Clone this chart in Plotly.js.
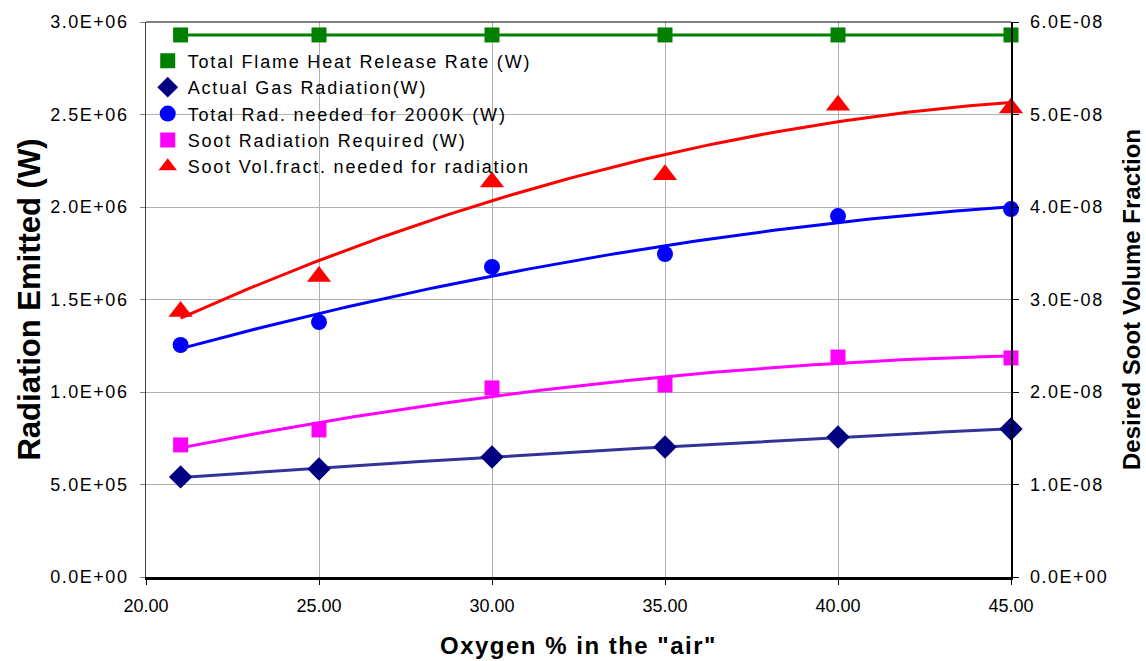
<!DOCTYPE html>
<html>
<head>
<meta charset="utf-8">
<script src="https://cdn.plot.ly/plotly-3.0.1.min.js"></script>
<style>
  html, body { margin: 0; padding: 0; background: #ffffff; }
  #chart { width: 1146px; height: 661px; }
  .legendtext { letter-spacing: 1.8px; }
  .ytick text, .y2tick text, text.ytick, text.y2tick { letter-spacing: 1.5px; }
  .g-xtitle text, text.xtitle { letter-spacing: 1.5px; }
</style>
</head>
<body>
<div id="chart"></div>
<script>
// ---- data ----
const oxygen = [21, 25, 30, 35, 40, 45];
const heatRelease = [2.93e6, 2.93e6, 2.93e6, 2.93e6, 2.93e6, 2.93e6];
const gasRadiation = [5.41e5, 5.84e5, 6.49e5, 7.03e5, 7.57e5, 8.00e5];
const totalRad = [1.254e6, 1.378e6, 1.676e6, 1.746e6, 1.951e6, 1.989e6];
const sootRad = [7.14e5, 7.95e5, 1.022e6, 1.038e6, 1.189e6, 1.184e6];
const sootVol = [2.87e-8, 3.25e-8, 4.27e-8, 4.35e-8, 5.10e-8, 5.07e-8];

const seriesNames = [
  'Total Flame Heat Release Rate (W)',
  'Actual Gas Radiation(W)',
  'Total Rad. needed for 2000K (W)',
  'Soot Radiation Required (W)',
  'Soot Vol.fract. needed for radiation'
];

const xTickVals = [20, 25, 30, 35, 40, 45];
const yTickVals = [0, 5e5, 1e6, 1.5e6, 2e6, 2.5e6, 3e6];
const yTickText = ['0.0E+00', '5.0E+05', '1.0E+06', '1.5E+06', '2.0E+06', '2.5E+06', '3.0E+06'];
const y2TickVals = [0, 1e-8, 2e-8, 3e-8, 4e-8, 5e-8, 6e-8];
const y2TickText = ['0.0E+00', '1.0E-08', '2.0E-08', '3.0E-08', '4.0E-08', '5.0E-08', '6.0E-08'];

// ---- 2nd-order least-squares trendline (like Excel's polynomial trendline) ----
function polyfit2(xs, ys) {
  const xm = xs.reduce((a, b) => a + b, 0) / xs.length;
  const ym = Math.max(...ys.map(Math.abs)) || 1;
  const u = xs.map(x => x - xm);
  const v = ys.map(y => y / ym);
  let S = [0, 0, 0, 0, 0], T = [0, 0, 0];
  for (let i = 0; i < u.length; i++) {
    let p = 1;
    for (let k = 0; k < 5; k++) { S[k] += p; p *= u[i]; }
    T[0] += v[i]; T[1] += v[i] * u[i]; T[2] += v[i] * u[i] * u[i];
  }
  const M = [[S[0], S[1], S[2], T[0]], [S[1], S[2], S[3], T[1]], [S[2], S[3], S[4], T[2]]];
  for (let c = 0; c < 3; c++) {
    for (let r = c + 1; r < 3; r++) {
      const f = M[r][c] / M[c][c];
      for (let k = c; k < 4; k++) M[r][k] -= f * M[c][k];
    }
  }
  const coef = [0, 0, 0];
  for (let r = 2; r >= 0; r--) {
    let s = M[r][3];
    for (let k = r + 1; k < 3; k++) s -= M[r][k] * coef[k];
    coef[r] = s / M[r][r];
  }
  return x => { const t = x - xm; return (coef[0] + coef[1] * t + coef[2] * t * t) * ym; };
}
function trend(xs, ys) {
  const f = polyfit2(xs, ys);
  const x0 = Math.min(...xs), x1 = Math.max(...xs);
  const tx = [], ty = [];
  for (let i = 0; i <= 120; i++) { const x = x0 + (x1 - x0) * i / 120; tx.push(x); ty.push(f(x)); }
  return {tx, ty};
}

const tGas = trend(oxygen, gasRadiation);
const tTot = trend(oxygen, totalRad);
const tSoot = trend(oxygen, sootRad);
const tVol = trend(oxygen, sootVol);

const traces = [
  // trendlines / connecting lines (no legend)
  {x: oxygen, y: heatRelease, mode: 'lines', line: {color: '#008000', width: 3}, showlegend: false, hoverinfo: 'skip'},
  {x: tGas.tx, y: tGas.ty, mode: 'lines', line: {color: '#333399', width: 3}, showlegend: false, hoverinfo: 'skip'},
  {x: tTot.tx, y: tTot.ty, mode: 'lines', line: {color: '#0000FF', width: 3}, showlegend: false, hoverinfo: 'skip'},
  {x: tSoot.tx, y: tSoot.ty, mode: 'lines', line: {color: '#FF00FF', width: 3}, showlegend: false, hoverinfo: 'skip'},
  {x: tVol.tx, y: tVol.ty, yaxis: 'y2', mode: 'lines', line: {color: '#FF0000', width: 3}, showlegend: false, hoverinfo: 'skip'},
  // markers
  {x: oxygen, y: heatRelease, name: seriesNames[0], mode: 'markers', cliponaxis: false, marker: {symbol: 'square', size: 15, color: '#008000'}},
  {x: oxygen, y: gasRadiation, name: seriesNames[1], mode: 'markers', cliponaxis: false, marker: {symbol: 'diamond', size: 18, color: '#000080'}},
  {x: oxygen, y: totalRad, name: seriesNames[2], mode: 'markers', cliponaxis: false, marker: {symbol: 'circle', size: 16, color: '#0000FF'}},
  {x: oxygen, y: sootRad, name: seriesNames[3], mode: 'markers', cliponaxis: false, marker: {symbol: 'square', size: 15, color: '#FF00FF'}},
  {x: oxygen, y: sootVol, yaxis: 'y2', name: seriesNames[4], mode: 'markers', cliponaxis: false, marker: {symbol: 'triangle-up', size: 21, color: '#FF0000'}}
];

const font = 'Liberation Sans, Arial, sans-serif';
const layout = {
  width: 1146, height: 661,
  margin: {l: 146, r: 135, t: 22, b: 84},
  paper_bgcolor: '#ffffff', plot_bgcolor: '#ffffff',
  font: {family: font, color: '#000000', size: 18},
  showlegend: true,
  legend: {
    x: 0.002, y: 0.963, xanchor: 'left', yanchor: 'top',
    bgcolor: 'rgba(255,255,255,0)', borderwidth: 0,
    font: {family: font, size: 18, color: '#000000'},
    tracegroupgap: 0, itemwidth: 30
  },
  xaxis: {
    range: [20, 45], tickvals: xTickVals, tickformat: '.2f',
    showgrid: true, gridcolor: '#b0b0b0', gridwidth: 1,
    showline: true, linecolor: '#000000', linewidth: 2.5,
    ticks: 'outside', ticklen: 5, tickcolor: '#000000',
    ticklabelstandoff: 6,
    zeroline: false,
    tickfont: {family: font, size: 18},
    title: {text: 'Oxygen % in the "air"', font: {family: font, size: 24, color: '#000000', weight: 'bold'}, standoff: 22}
  },
  yaxis: {
    range: [0, 3e6], tickvals: yTickVals, ticktext: yTickText,
    showgrid: true, gridcolor: '#b0b0b0', gridwidth: 1,
    showline: true, linecolor: '#404040', linewidth: 1,
    ticks: 'outside', ticklen: 5, tickcolor: '#808080',
    ticklabelstandoff: 8,
    zeroline: false,
    tickfont: {family: font, size: 18},
    title: {text: 'Radiation Emitted (W)', font: {family: font, size: 31, color: '#000000', weight: 'bold'}, standoff: 0}
  },
  yaxis2: {
    range: [0, 6e-8], tickvals: y2TickVals, ticktext: y2TickText,
    overlaying: 'y', side: 'right',
    showgrid: false, zeroline: false,
    showline: true, linecolor: '#000000', linewidth: 1.5,
    ticks: 'outside', ticklen: 6, tickcolor: '#000000',
    ticklabelstandoff: 8,
    tickfont: {family: font, size: 18},
    title: {text: 'Desired Soot Volume Fraction', font: {family: font, size: 24, color: '#000000', weight: 'bold'}, standoff: 16}
  },
  shapes: [
    // white legend background, drawn over gridlines but under the data
    {type: 'rect', layer: 'between', xref: 'paper', yref: 'paper', x0: 0.002, x1: 0.4636, y0: 0.731, y1: 0.953,
     fillcolor: '#ffffff', line: {width: 0}},
    {type: 'line', xref: 'paper', yref: 'paper', x0: 0, x1: 1, y0: 1, y1: 1, line: {color: '#000000', width: 1}}
  ]
};

Plotly.newPlot('chart', traces, layout, {displayModeBar: false, staticPlot: true});
</script>
</body>
</html>
